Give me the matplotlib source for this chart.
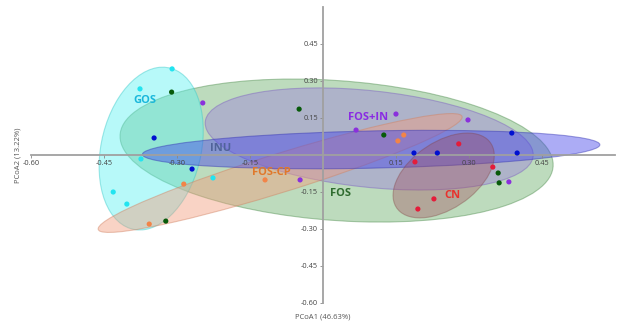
import matplotlib
matplotlib.use('Agg')
import matplotlib.pyplot as plt
import matplotlib.transforms as transforms
import numpy as np
from matplotlib.patches import Ellipse

plt.rcParams['font.family'] = ['Open Sans', 'DejaVu Sans']

# groups, in drawing order
groups = ['FOS', 'GOS', 'FOS+IN', 'FOS-CP', 'INU', 'CN']

# sample coordinates (PCoA1, PCoA2)
pts_x = {
	'GOS': [-0.310, -0.376, -0.374, -0.226, -0.431, -0.403],
	'FOS': [-0.311, -0.323, -0.049, 0.125, 0.360, 0.362],
	'FOS+IN': [-0.247, -0.047, 0.068, 0.150, 0.298, 0.382],
	'INU': [-0.347, -0.269, 0.187, 0.235, 0.388, 0.399],
	'FOS-CP': [-0.286, -0.357, -0.119, 0.154, 0.166],
	'CN': [0.189, 0.279, 0.349, 0.228, 0.195],
}
pts_y = {
	'GOS': [0.349, 0.268, -0.016, -0.093, -0.150, -0.199],
	'FOS': [0.255, -0.268, 0.186, 0.081, -0.073, -0.113],
	'FOS+IN': [0.211, -0.101, 0.101, 0.166, 0.142, -0.109],
	'INU': [0.069, -0.057, 0.008, 0.008, 0.089, 0.008],
	'FOS-CP': [-0.118, -0.280, -0.101, 0.057, 0.081],
	'CN': [-0.028, 0.045, -0.049, -0.178, -0.219],
}

# group ellipses: centre, half extents and correlation
ell_cx = {'GOS': -0.353, 'FOS': 0.028, 'FOS+IN': 0.095, 'INU': 0.099, 'FOS-CP': -0.088, 'CN': 0.248}
ell_cy = {'GOS': 0.026, 'FOS': 0.018, 'FOS+IN': 0.065, 'INU': 0.022, 'FOS-CP': -0.073, 'CN': -0.083}
ell_sx = {'GOS': 0.107, 'FOS': 0.445, 'FOS+IN': 0.337, 'INU': 0.470, 'FOS-CP': 0.374, 'CN': 0.104}
ell_sy = {'GOS': 0.330, 'FOS': 0.290, 'FOS+IN': 0.207, 'INU': 0.078, 'FOS-CP': 0.241, 'CN': 0.172}
ell_rho = {'GOS': 0.22, 'FOS': -0.20, 'FOS+IN': -0.31, 'INU': 0.25, 'FOS-CP': 0.94, 'CN': 0.47}

# group label positions
lab_x = {'GOS': -0.366, 'FOS': 0.037, 'FOS+IN': 0.092, 'INU': -0.210, 'FOS-CP': -0.105, 'CN': 0.267}
lab_y = {'GOS': 0.219, 'FOS': -0.158, 'FOS+IN': 0.154, 'INU': 0.028, 'FOS-CP': -0.069, 'CN': -0.166}

ticks = [-0.60, -0.45, -0.30, -0.15, 0.15, 0.30, 0.45]

point_colors = {'GOS': '#22e4f0', 'FOS': '#075a0a', 'FOS+IN': '#8a30dc',
	'INU': '#0010d0', 'FOS-CP': '#f28448', 'CN': '#e41c3a'}
face_colors = {'GOS': '#5cf2f2', 'FOS': '#6aaf6a', 'FOS+IN': '#9c80da',
	'INU': '#4242ea', 'FOS-CP': '#f29c7c', 'CN': '#a04a5a'}
edge_colors = {'GOS': '#38c8c8', 'FOS': '#4a8a4a', 'FOS+IN': '#7a5cc0',
	'INU': '#3030b0', 'FOS-CP': '#d08060', 'CN': '#804040'}
label_colors = {'GOS': '#1ab7db', 'FOS': '#2f6b2f', 'FOS+IN': '#8a2be2',
	'INU': '#50639a', 'FOS-CP': '#e0782a', 'CN': '#e8322d'}


def draw_ellipse(ax, g, alpha):
	rho = ell_rho[g]
	ell = Ellipse((0, 0), width = 2 * np.sqrt(1 + rho), height = 2 * np.sqrt(1 - rho),
		facecolor = face_colors[g], edgecolor = edge_colors[g], alpha = alpha, lw = 0.8)
	tr = transforms.Affine2D().rotate_deg(45).scale(ell_sx[g], ell_sy[g]).translate(ell_cx[g], ell_cy[g])
	ell.set_transform(tr + ax.transData)
	ax.add_patch(ell)


fig = plt.figure(figsize = (6.17, 3.25), dpi = 100)
ax = fig.add_axes([0.0502, 0.0677, 0.9465, 0.9108])
ax.set_xlim(-0.6, 0.6)
ax.set_ylim(-0.6, 0.6)

for g in groups:
	draw_ellipse(ax, g, 0.44 if g != 'CN' else 0.36)
for g in groups:
	ax.scatter(pts_x[g], pts_y[g], s = 14, color = point_colors[g], edgecolors = 'none', zorder = 5)
	ax.text(lab_x[g], lab_y[g], g, color = label_colors[g], fontsize = 8, fontweight = 'bold',
		ha = 'center', va = 'center', zorder = 6)

for side in ['top', 'right']:
	ax.spines[side].set_visible(False)
for side in ['left', 'bottom']:
	ax.spines[side].set_position(('data', 0))
	ax.spines[side].set_color('#a0a0a0')
	ax.spines[side].set_linewidth(1.3)
ax.set_xticks(ticks)
ax.set_yticks(ticks)
ax.set_xticklabels(['{0:.2f}'.format(t) for t in ticks])
ax.set_yticklabels(['{0:.2f}'.format(t) for t in ticks])
ax.tick_params(labelsize = 5.3, labelcolor = '#444444', color = '#888888', length = 2, width = 0.6, pad = 1.5)

fig.text(323 / 617, 1 - 317 / 325, 'PCoA1 (46.63%)', fontsize = 5.5, color = '#555555', ha = 'center', va = 'center')
fig.text(18 / 617, 1 - 155 / 325, 'PCoA2 (13.22%)', fontsize = 5.5, color = '#555555', rotation = 90,
	ha = 'center', va = 'center')

fig.savefig('out.png', dpi = 100)
